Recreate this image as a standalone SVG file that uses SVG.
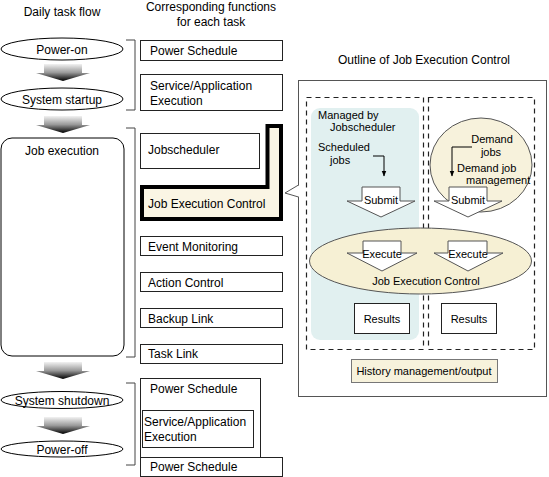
<svg xmlns="http://www.w3.org/2000/svg" width="549" height="477" viewBox="0 0 549 477">
<style>
text{font-family:"Liberation Sans",Arial,sans-serif;fill:#000}
.t12{font-size:12px}
.t11{font-size:11px}
.mid{text-anchor:middle}
.flow{fill:#fff;stroke:#000;stroke-width:1}
.box{fill:#fff;stroke:#222;stroke-width:1}
.brk{fill:none;stroke:#444;stroke-width:1}
.blk{fill:#fff;stroke:#555;stroke-width:1}
.dash{fill:none;stroke:#222;stroke-width:1.2;stroke-dasharray:5,4}
.ln{fill:none;stroke:#000;stroke-width:1}
</style>
<defs>
<linearGradient id="g" x1="0" y1="0" x2="0" y2="1">
<stop offset="0" stop-color="#f2f2f2"/>
<stop offset="0.5" stop-color="#9a9a9a"/>
<stop offset="1" stop-color="#000"/>
</linearGradient>
<marker id="ah" viewBox="0 0 10 10" refX="9" refY="5" markerWidth="6" markerHeight="7" orient="auto">
<path d="M0,1 L10,5 L0,9 Z" fill="#000"/>
</marker>
</defs>

<text class="t12 mid" x="62" y="16">Daily task flow</text>
<text class="t12 mid" x="211" y="11">Corresponding functions</text>
<text class="t12 mid" x="211" y="26">for each task</text>

<g id="power-on"><ellipse class="flow" cx="62" cy="49" rx="61" ry="11"/><text class="t12 mid" x="62" y="54">Power-on</text></g>
<g id="system-startup"><ellipse class="flow" cx="62" cy="99" rx="61" ry="11"/><text class="t12 mid" x="62" y="104">System startup</text></g>
<g id="job-execution"><rect class="flow" x="1" y="138" width="123" height="218" rx="11"/><text class="t12 mid" x="62" y="155">Job execution</text></g>
<g id="system-shutdown"><ellipse class="flow" cx="62" cy="400" rx="61" ry="8.5"/><text class="t12 mid" x="62" y="405">System shutdown</text></g>
<g id="power-off"><ellipse class="flow" cx="62" cy="449" rx="61" ry="8"/><text class="t12 mid" x="62" y="454">Power-off</text></g>

<g id="power-schedule-1"><rect class="box" x="140.5" y="40.5" width="142" height="20"/><text class="t12" x="150" y="55">Power Schedule</text></g>
<g id="service-1"><rect class="box" x="140.5" y="74.5" width="142" height="36"/><text class="t12" x="150" y="90">Service/Application</text><text class="t12" x="150" y="105">Execution</text></g>
<g id="jobscheduler"><rect class="box" x="140.5" y="133.5" width="119" height="35"/><text class="t12" x="148" y="154">Jobscheduler</text></g>
<g id="job-execution-control"><path d="M142,187 H267.5 V126 H281 V219 H142 Z" fill="#faf5e4" stroke="#000" stroke-width="4"/><text class="t12" x="148" y="208">Job Execution Control</text></g>
<g id="event-monitoring"><rect class="box" x="140.5" y="236.5" width="142" height="19"/><text class="t12" x="148" y="251">Event Monitoring</text></g>
<g id="action-control"><rect class="box" x="140.5" y="272.5" width="142" height="19"/><text class="t12" x="148" y="287">Action Control</text></g>
<g id="backup-link"><rect class="box" x="140.5" y="308.5" width="142" height="19"/><text class="t12" x="148" y="323">Backup Link</text></g>
<g id="task-link"><rect class="box" x="140.5" y="344.5" width="142" height="19"/><text class="t12" x="148" y="358">Task Link</text></g>
<g id="power-schedule-2"><rect class="box" x="140.5" y="378.5" width="120" height="79"/><text class="t12" x="150" y="393">Power Schedule</text></g>
<g id="service-2"><rect class="box" x="142.5" y="410.5" width="111" height="37"/><text class="t12" x="144" y="426">Service/Application</text><text class="t12" x="144" y="441">Execution</text></g>
<g id="power-schedule-3"><rect class="box" x="140.5" y="457.5" width="142" height="19"/><text class="t12" x="150" y="471">Power Schedule</text></g>

<g id="outline-panel">
<text class="t12 mid" x="424" y="64">Outline of Job Execution Control</text>
<rect x="298.5" y="80.5" width="248" height="316" fill="#fff" stroke="#555" stroke-width="1"/>
<polygon points="299.5,185 285,193 299.5,197" fill="#fff"/>
<polyline points="298.5,185 285,193 298.5,197" fill="none" stroke="#555" stroke-width="1"/>
</g>

<g id="scheduled-area">
<rect x="311" y="108" width="108" height="232" rx="9" fill="#e1f0f0"/>
<rect class="dash" x="306.5" y="97.5" width="117" height="252"/>
<text class="t11" x="318" y="119">Managed by</text>
<text class="t11" x="330" y="131">Jobscheduler</text>
<text class="t11" x="318" y="151">Scheduled</text>
<text class="t11" x="330" y="164">jobs</text>
</g>

<g id="demand-area">
<rect class="dash" x="428.5" y="97.5" width="106" height="252"/>
<ellipse cx="481" cy="165" rx="51" ry="47" fill="#f7f2dc" stroke="#555" stroke-width="1"/>
<text class="t11 mid" x="492" y="143">Demand</text>
<text class="t11 mid" x="491" y="156">jobs</text>
<text class="t11" x="457" y="172">Demand job</text>
<text class="t11" x="466" y="184">management</text>
</g>

<g id="submit-1"><path class="blk" d="M362,187 H400 V201 H415 L381,217 L347,201 H362 Z"/><text class="t11 mid" x="381" y="204">Submit</text></g>
<g id="submit-2"><path class="blk" d="M449,187 H487 V201 H502 L468,217 L434,201 H449 Z"/><text class="t11 mid" x="468" y="204">Submit</text></g>

<g id="jec-ellipse">
<ellipse cx="420.5" cy="261" rx="111" ry="33" fill="#f6f0d4" stroke="#555" stroke-width="1"/>
<text class="t11 mid" x="426" y="285">Job Execution Control</text>
</g>
<g id="execute-1"><path class="blk" d="M363,241 H401 V253 H417 L382,271 L347,253 H363 Z"/><text class="t11 mid" x="382" y="258">Execute</text></g>
<g id="execute-2"><path class="blk" d="M448,241 H487 V253 H503 L468,271 L434,253 H448 Z"/><text class="t11 mid" x="468" y="258">Execute</text></g>

<g id="results-1"><rect class="box" x="354.5" y="303.5" width="55" height="30"/><text class="t11 mid" x="382" y="323">Results</text></g>
<g id="results-2"><rect class="box" x="441.5" y="303.5" width="55" height="30"/><text class="t11 mid" x="469" y="323">Results</text></g>
<g id="history"><rect x="351.5" y="359.5" width="146" height="23" fill="#f7f2dc" stroke="#777" stroke-width="1"/><text class="t11 mid" x="424" y="375">History management/output</text></g>

<g id="connectors">
<path fill="url(#g)" d="M44,64 H82 V73 H90 L63,81 L36,73 H44 Z"/>
<path fill="url(#g)" d="M44,116 H82 V125 H90 L63,133 L36,125 H44 Z"/>
<path fill="url(#g)" d="M44,362 H82 V371 H90 L63,379 L36,371 H44 Z"/>
<path fill="url(#g)" d="M44,417 H82 V426 H90 L63,434 L36,426 H44 Z"/>
<path class="brk" d="M126,40 H135 V110 H126"/>
<path class="brk" d="M126,128 H135 V357 H126"/>
<path class="brk" d="M126,383 H135 V465 H126"/>
<polyline class="ln" points="373,156 384,156 384,176" marker-end="url(#ah)"/>
<polyline class="ln" points="472,147 452,147 452,176" marker-end="url(#ah)"/>
</g>
</svg>
